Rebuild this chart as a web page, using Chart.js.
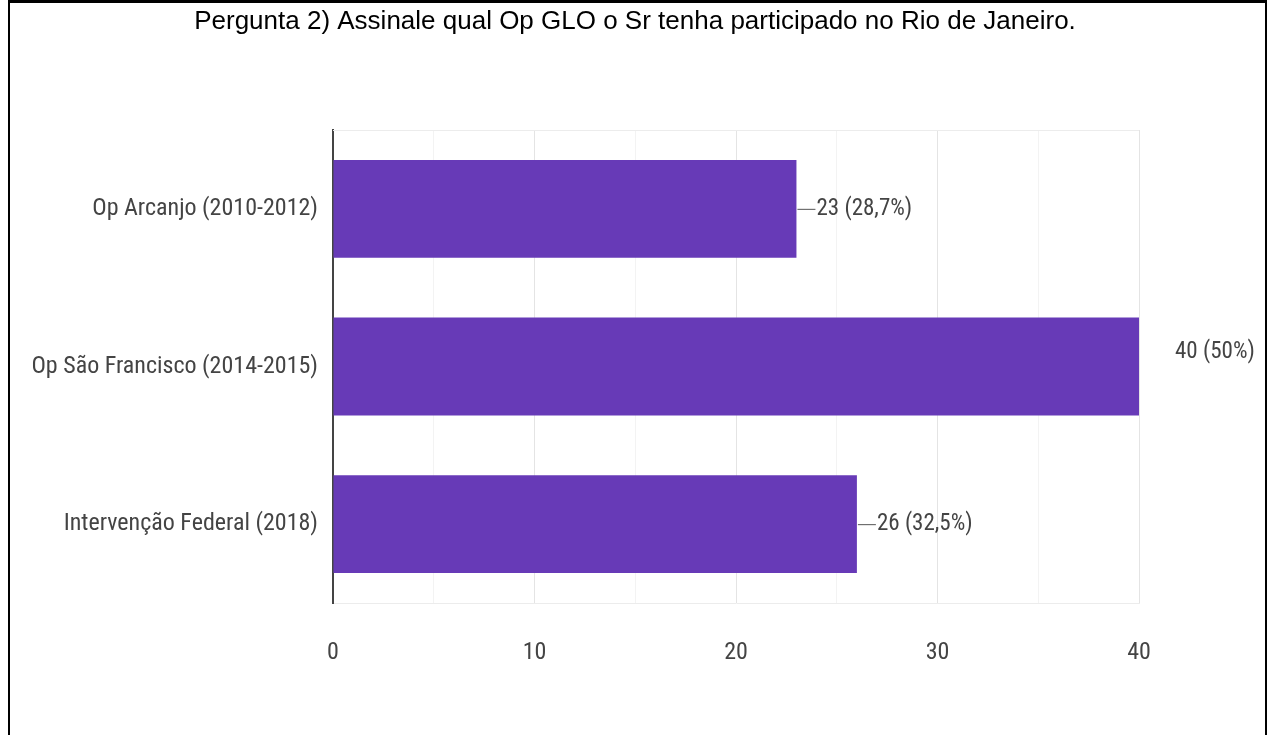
<!DOCTYPE html>
<html>
<head>
<meta charset="utf-8">
<script src="https://cdn.jsdelivr.net/npm/chart.js@4"></script>
<style>
  body { margin: 0; background: #fff; }
  #wrap { position: relative; width: 1270px; height: 735px; overflow: hidden; }
  #frame {
    position: absolute; left: 8px; top: 0; width: 1255px; height: 800px;
    border: 2px solid #000; border-top-width: 3px; pointer-events: none;
  }
  canvas { position: absolute; left: 0; top: 0; }
</style>
</head>
<body>
<div id="wrap">
  <canvas id="glo" width="1270" height="735"></canvas>
  <div id="frame"></div>
</div>
<script>
const titulo = 'Pergunta 2) Assinale qual Op GLO o Sr tenha participado no Rio de Janeiro.';
const categorias = ['Op Arcanjo (2010-2012)', 'Op São Francisco (2014-2015)', 'Intervenção Federal (2018)'];
const respostas = [23, 40, 26];
const percentuais = ['28,7%', '50%', '32,5%'];
const xTicks = [0, 10, 20, 30, 40];

const narrow = "'Liberation Sans Narrow', 'Roboto Condensed', 'DejaVu Sans Condensed', 'Liberation Sans', sans-serif";

// heading centred on the whole page
const heading = {
  id: 'heading',
  afterDraw(chart) {
    const ctx = chart.ctx;
    ctx.save();
    ctx.font = "26px 'Liberation Sans', Arial, sans-serif";
    ctx.fillStyle = '#000';
    ctx.textAlign = 'center';
    ctx.textBaseline = 'middle';
    ctx.fillText(titulo, chart.width / 2, 22);
    ctx.restore();
  }
};

// faint line on top of the plot area
const plotFrame = {
  id: 'plotFrame',
  beforeDatasetsDraw(chart) {
    const { ctx, chartArea: a } = chart;
    ctx.save();
    ctx.strokeStyle = '#ececec';
    ctx.lineWidth = 1;
    ctx.beginPath();
    ctx.moveTo(a.left, a.top + 0.5);
    ctx.lineTo(a.right, a.top + 0.5);
    ctx.stroke();
    ctx.restore();
  }
};

// value labels with a short leader line
const valueLabels = {
  id: 'valueLabels',
  afterDatasetsDraw(chart) {
    const { ctx, chartArea: a } = chart;
    const meta = chart.getDatasetMeta(0);
    ctx.save();
    ctx.font = '23px ' + narrow;
    ctx.fillStyle = '#444';
    ctx.strokeStyle = '#555';
    ctx.lineWidth = 1;
    ctx.textBaseline = 'middle';
    meta.data.forEach((bar, i) => {
      const text = respostas[i] + ' (' + percentuais[i] + ')';
      if (bar.x + 25 + ctx.measureText(text).width > a.right) {
        ctx.fillText(text, bar.x + 36, bar.y - 14);
      } else {
        ctx.beginPath();
        ctx.moveTo(bar.x + 1, bar.y + 0.5);
        ctx.lineTo(bar.x + 19, bar.y + 0.5);
        ctx.stroke();
        ctx.fillText(text, bar.x + 20, bar.y);
      }
    });
    ctx.restore();
  }
};

new Chart(document.getElementById('glo'), {
  type: 'bar',
  data: {
    labels: categorias,
    datasets: [{
      data: respostas,
      backgroundColor: '#673ab7',
      barPercentage: 0.62,
      categoryPercentage: 1
    }]
  },
  options: {
    indexAxis: 'y',
    responsive: false,
    animation: false,
    layout: { padding: { left: 0, right: 131, top: 130, bottom: 0 } },
    plugins: {
      legend: { display: false },
      tooltip: { enabled: false },
      title: { display: false }
    },
    scales: {
      x: {
        min: 0,
        max: 40,
        ticks: {
          stepSize: 5,
          padding: 36,
          color: '#444',
          font: { family: narrow, size: 24 },
          callback: v => xTicks.includes(v) ? v : ''
        },
        grid: {
          drawTicks: false,
          color: c => c.tick.value === 0 ? 'rgba(0,0,0,0)' : (xTicks.includes(c.tick.value) ? '#e4e4e4' : '#f3f3f3')
        },
        border: { color: '#ececec' },
        afterFit: s => { s.height = 132; }
      },
      y: {
        ticks: {
          padding: 15,
          color: '#444',
          font: { family: narrow, size: 24 }
        },
        grid: { display: false, drawTicks: false },
        border: { color: '#444', width: 2 },
        afterFit: s => { s.width = 333; }
      }
    }
  },
  plugins: [plotFrame, valueLabels, heading]
});
</script>
</body>
</html>
